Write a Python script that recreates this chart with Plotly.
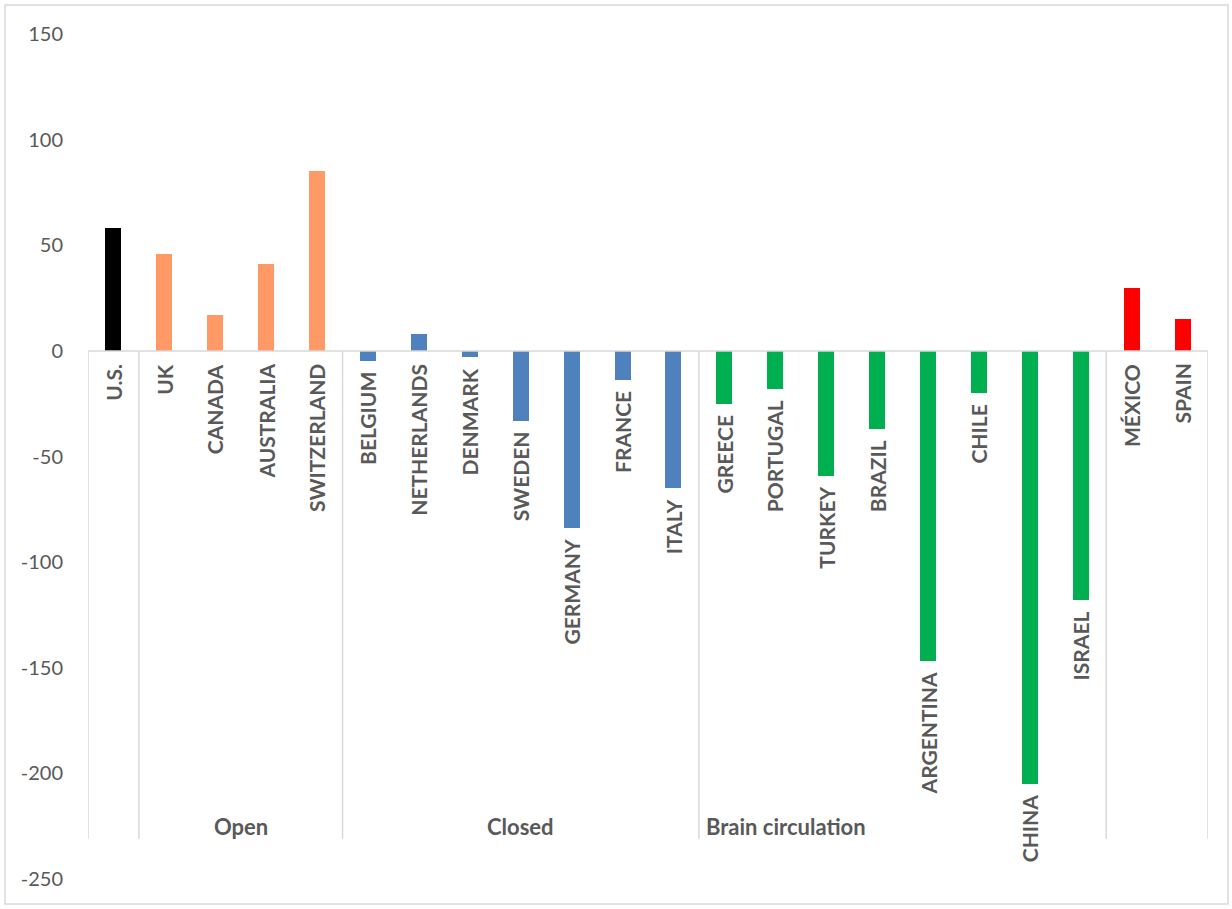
import plotly.graph_objects as go

countries = ["U.S.", "UK", "CANADA", "AUSTRALIA", "SWITZERLAND",
             "BELGIUM", "NETHERLANDS", "DENMARK", "SWEDEN", "GERMANY", "FRANCE", "ITALY",
             "GREECE", "PORTUGAL", "TURKEY", "BRAZIL", "ARGENTINA", "CHILE", "CHINA", "ISRAEL",
             "MÉXICO", "SPAIN"]
values = [58, 46, 17, 41, 85,
          -5, 8, -3, -33, -84, -14, -65,
          -25, -18, -59, -37, -147, -20, -205, -118,
          30, 15]
groups = ["", "Open", "Closed", "Brain circulation", ""]
group_sizes = [1, 4, 7, 8, 2]
group_colors = ["#000000", "#FF9966", "#4F81BD", "#00B050", "#FF0000"]
y_ticks = [150, 100, 50, 0, -50, -100, -150, -200, -250]

W, H = 1232, 909
ML, MR, MT, MB = 88, 24, 34, 30
TXT = "#595959"
GRID = "#D9D9D9"
FONT = "Lato"

colors = []
for c, n in zip(group_colors, group_sizes):
    colors += [c] * n

x = list(range(len(countries)))

fig = go.Figure()
fig.add_trace(go.Bar(x=x, y=values, marker=dict(color=colors, line=dict(width=0)),
                     width=0.315, hoverinfo="skip", showlegend=False))

annotations = []
for xi, name, v in zip(x, countries, values):
    annotations.append(dict(x=xi, y=min(v, 0), xref="x", yref="y", text=name,
                            textangle=-90, showarrow=False, xanchor="center", yanchor="top",
                            yshift=-9 if v < 0 else -11,
                            font=dict(family=FONT, size=21, color=TXT, weight="bold")))

shapes = []
bounds = [-0.5]
acc = -0.5
for n in group_sizes:
    acc += n
    bounds.append(acc)
for b in bounds:
    shapes.append(dict(type="line", xref="x", yref="y", x0=b, x1=b, y0=0, y1=-231,
                       line=dict(color=GRID, width=1.5)))
shapes.append(dict(type="line", xref="x", yref="y", x0=bounds[0], x1=bounds[-1], y0=0, y1=0,
                   line=dict(color=GRID, width=1.5)))

start = -0.5
for g, n in zip(groups, group_sizes):
    end = start + n
    if g:
        if g == "Brain circulation":
            annotations.append(dict(x=start, y=-225, xref="x", yref="y", text=g, showarrow=False,
                                    xanchor="left", yanchor="middle", xshift=5,
                                    font=dict(family=FONT, size=22, color=TXT, weight="bold")))
        else:
            annotations.append(dict(x=(start + end) / 2, y=-225, xref="x", yref="y", text=g,
                                    showarrow=False, xanchor="center", yanchor="middle",
                                    font=dict(family=FONT, size=22, color=TXT, weight="bold")))
    start = end

pw = W - ML - MR
ph = H - MT - MB
shapes.append(dict(type="rect", xref="paper", yref="paper",
                   x0=(5 - ML) / pw, x1=(W - 4 - ML) / pw,
                   y0=-(H - 5 - (H - MB)) / ph, y1=1 + (MT - 5) / ph,
                   line=dict(color=GRID, width=1.5), fillcolor="rgba(0,0,0,0)", layer="below"))

fig.update_layout(
    width=W, height=H,
    margin=dict(l=ML, r=MR, t=MT, b=MB),
    paper_bgcolor="white", plot_bgcolor="white",
    bargap=0.0,
    xaxis=dict(range=[-0.5, len(countries) - 0.5], showticklabels=False, showgrid=False,
               zeroline=False, showline=False, ticks=""),
    yaxis=dict(range=[-250, 150], tickvals=y_ticks, ticktext=[str(t) for t in y_ticks],
               showgrid=False, zeroline=False,
               showline=False, ticks="", ticklabelstandoff=24,
               tickfont=dict(family=FONT, size=20, color=TXT)),
    annotations=annotations,
    shapes=shapes,
)

fig.write_html("out.html")
